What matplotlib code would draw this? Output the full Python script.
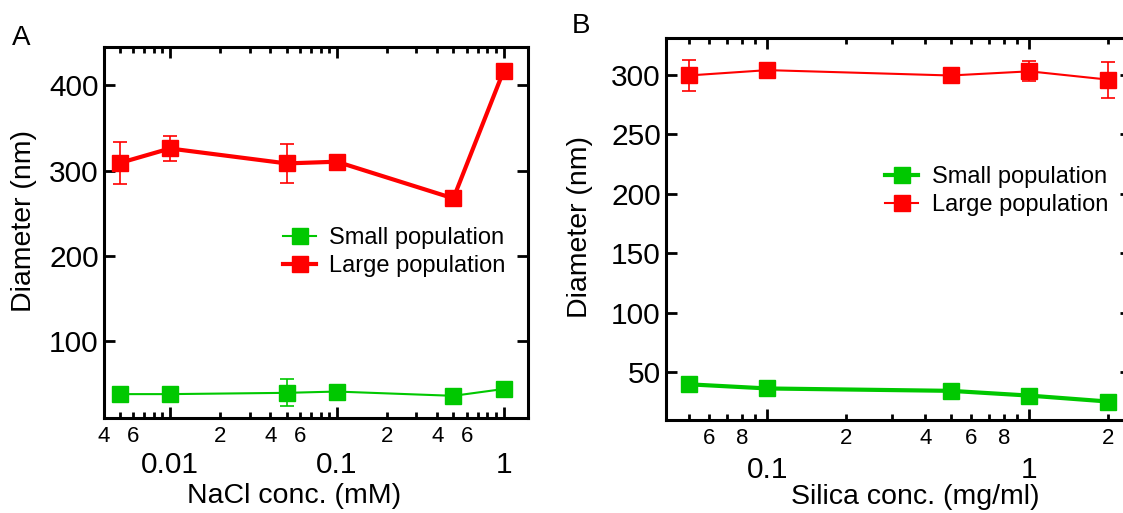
import numpy as np
import matplotlib
matplotlib.use("Agg")
import matplotlib.pyplot as plt
from matplotlib.ticker import FixedLocator, FuncFormatter, NullFormatter

plt.rcParams['font.family'] = ['Liberation Sans', 'DejaVu Sans']

# panel A: NaCl series
nacl_conc = [0.005, 0.01, 0.05, 0.1, 0.5, 1]
nacl_small = [38, 38, 39.5, 41, 36, 44]
nacl_small_err = [0, 0, 16, 0, 0, 0]
nacl_large = [309, 326, 308.5, 310.5, 267.5, 417]
nacl_large_err = [24.5, 15, 23, 0, 0, 0]

# panel B: silica series
silica_conc = [0.05, 0.1, 0.5, 1, 2]
silica_small = [40, 36.5, 34.5, 30.5, 25.5]
silica_small_err = [0, 0, 0, 0, 0]
silica_large = [299.5, 304, 299.5, 303, 296]
silica_large_err = [13, 0, 4, 8.5, 15]

# tick values / labels
nacl_major = [0.01, 0.1, 1]
nacl_major_labels = ['0.01', '0.1', '1']
nacl_minor_lab = [0.004, 0.006, 0.02, 0.04, 0.06, 0.2, 0.4, 0.6]
nacl_minor_txt = ['4', '6', '2', '4', '6', '2', '4', '6']
nacl_yticks = [100, 200, 300, 400]

silica_major = [0.1, 1]
silica_major_labels = ['0.1', '1']
silica_minor_lab = [0.06, 0.08, 0.2, 0.4, 0.6, 0.8, 2]
silica_minor_txt = ['6', '8', '2', '4', '6', '8', '2']
silica_yticks = [50, 100, 150, 200, 250, 300]

labels = ['Small population', 'Large population']
GREEN = '#00c800'
RED = '#ff0000'

W, H = 1123, 513
fig = plt.figure(figsize=(W / 100, H / 100), dpi=100)


def add_px_axes(l, t, r, b):
    return fig.add_axes([l / W, 1 - b / H, (r - l) / W, (b - t) / H])


def minor_positions(lo, hi):
    out = []
    for e in range(-4, 2):
        for s in range(2, 10):
            v = s * 10.0 ** e
            if lo * 0.999 <= v <= hi:
                out.append(v)
    return out


def style_axes(ax, xlim, ylim, major, major_lbl, minor_lab, minor_txt, yticks,
               major_pad, minor_pad):
    ax.set_xscale('log')
    ax.set_xlim(*xlim)
    ax.set_ylim(*ylim)
    ax.xaxis.set_major_locator(FixedLocator(major))
    ax.xaxis.set_major_formatter(FuncFormatter(
        lambda v, p: dict(zip(major, major_lbl)).get(round(v, 6), '')))
    ax.xaxis.set_minor_locator(FixedLocator(minor_positions(*xlim)))
    lookup = {round(v, 6): t for v, t in zip(minor_lab, minor_txt)}
    ax.xaxis.set_minor_formatter(FuncFormatter(lambda v, p: lookup.get(round(v, 6), '')))
    ax.yaxis.set_major_locator(FixedLocator(yticks))
    ax.yaxis.set_minor_formatter(NullFormatter())
    for s in ax.spines.values():
        s.set_linewidth(2.2)
    ax.tick_params(axis='both', which='both', direction='in', top=True, right=True,
                   width=2.0, colors='black')
    ax.tick_params(axis='both', which='major', length=8)
    ax.tick_params(axis='both', which='minor', length=4)
    ax.tick_params(axis='x', which='major', labelsize=21.5, pad=major_pad)
    ax.tick_params(axis='x', which='minor', labelsize=16, pad=minor_pad)
    ax.tick_params(axis='y', which='major', labelsize=21.5, pad=3.5)
    ax.tick_params(axis='y', which='minor', left=False, right=False)


def draw(ax, x, small, small_err, large, large_err, lw_small, lw_large):
    for y, e, c in [(small, small_err, GREEN), (large, large_err, RED)]:
        if any(e):
            ax.errorbar(x, y, yerr=e, fmt='none', ecolor=c, elinewidth=1.2,
                        capsize=4.7, capthick=1.2, zorder=2)
    hs = ax.plot(x, small, color=GREEN, lw=lw_small, marker='s', ms=11,
                 mec=GREEN, zorder=3)[0]
    hl = ax.plot(x, large, color=RED, lw=lw_large, marker='s', ms=11,
                 mec=RED, zorder=3)[0]
    return hs, hl


# panel A
axA = add_px_axes(103.5, 47, 528, 418)
style_axes(axA, (0.004, 1.4), (10, 445), nacl_major, nacl_major_labels,
           nacl_minor_lab, nacl_minor_txt, nacl_yticks, 23.5, 5.5)
hA = draw(axA, nacl_conc, nacl_small, nacl_small_err, nacl_large, nacl_large_err,
          1.5, 3.0)
axA.legend(hA, labels, loc='upper left', bbox_to_anchor=(283 / W, 1 - 227 / H),
           bbox_transform=fig.transFigure, frameon=False, fontsize=17,
           borderpad=0, borderaxespad=0, handlelength=1.4, handletextpad=0.55,
           labelspacing=0.25)

# panel B
axB = add_px_axes(665.7, 38, 1131, 420)
style_axes(axB, (0.0409, 2.44), (10, 331), silica_major, silica_major_labels,
           silica_minor_lab, silica_minor_txt, silica_yticks, 25.6, 5.5)
hB = draw(axB, silica_conc, silica_small, silica_small_err, silica_large,
          silica_large_err, 3.0, 1.5)
axB.legend(hB, labels, loc='upper left', bbox_to_anchor=(885 / W, 1 - 166 / H),
           bbox_transform=fig.transFigure, frameon=False, fontsize=17,
           borderpad=0, borderaxespad=0, handlelength=1.4, handletextpad=0.6,
           labelspacing=0.25)

# axis titles and panel letters
fig.text(24 / W, 1 - 221 / H, 'Diameter (nm)', rotation=90, fontsize=20.5,
         ha='center', va='center')
fig.text(580 / W, 1 - 227 / H, 'Diameter (nm)', rotation=90, fontsize=20.5,
         ha='center', va='center')
fig.text(294 / W, 1 - 496 / H, 'NaCl conc. (mM)', fontsize=20.5,
         ha='center', va='center')
fig.text(915 / W, 1 - 497 / H, 'Silica conc. (mg/ml)', fontsize=20.5,
         ha='center', va='center')
fig.text(12 / W, 1 - 38 / H, 'A', fontsize=20, ha='left', va='center')
fig.text(572 / W, 1 - 26 / H, 'B', fontsize=20, ha='left', va='center')

fig.savefig('out.png', dpi=100)
